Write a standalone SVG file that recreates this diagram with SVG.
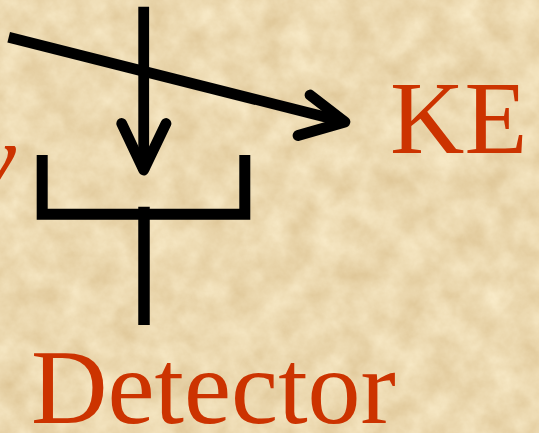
<svg xmlns="http://www.w3.org/2000/svg" width="539" height="433" viewBox="0 0 539 433">
  <defs>
    <filter id="parchment" x="0" y="0" width="539" height="433" filterUnits="userSpaceOnUse" color-interpolation-filters="sRGB">
      <feTurbulence type="fractalNoise" baseFrequency="0.035" numOctaves="5" seed="7" result="n"/>
      <feColorMatrix in="n" type="matrix" values="0.12 0 0 0 0.865  0.17 0 0 0 0.765  0.23 0 0 0 0.575  0 0 0 0 1"/>
    </filter>
    <style>
      .ln { fill: none; stroke: #000; stroke-width: 10.8; }
      .butt { stroke-linecap: butt; }
      .head { stroke-linecap: round; stroke-linejoin: round; }
      .lbl { font-family: "Liberation Serif", "Times New Roman", serif; fill: #cc3300; }
    </style>
  </defs>
  <rect id="background" x="0" y="0" width="539" height="433" fill="#ecd8ae"/>
  <rect x="0" y="0" width="539" height="433" filter="url(#parchment)"/>

  <g id="connectors">
    <g id="incoming-arrow">
      <path class="ln butt" d="M143.7,6.7 V171"/>
      <path class="ln head" d="M121.7,123.5 L143.7,170 L166,123.5"/>
    </g>
    <g id="outgoing-arrow">
      <path class="ln butt" d="M8.7,37.2 L345,122"/>
      <path class="ln head" d="M310,95 L345,122 L298,135.5"/>
    </g>
  </g>

  <g id="detector">
    <path class="ln butt" style="stroke-width:11;stroke-linejoin:miter" d="M42.2,155 V214.2 H244.8 V155"/>
    <path class="ln butt" style="stroke-width:11.5" d="M144,206.7 V325"/>
    <text class="lbl" x="31" y="423.3" font-size="106">Detector</text>
  </g>

  <g id="ke-label">
    <text class="lbl" x="390" y="153.3" font-size="103">KE</text>
  </g>

  <g id="photon-label">
    <text class="lbl" x="16" y="194" font-size="103" font-style="italic" text-anchor="end">ν</text>
  </g>
</svg>
